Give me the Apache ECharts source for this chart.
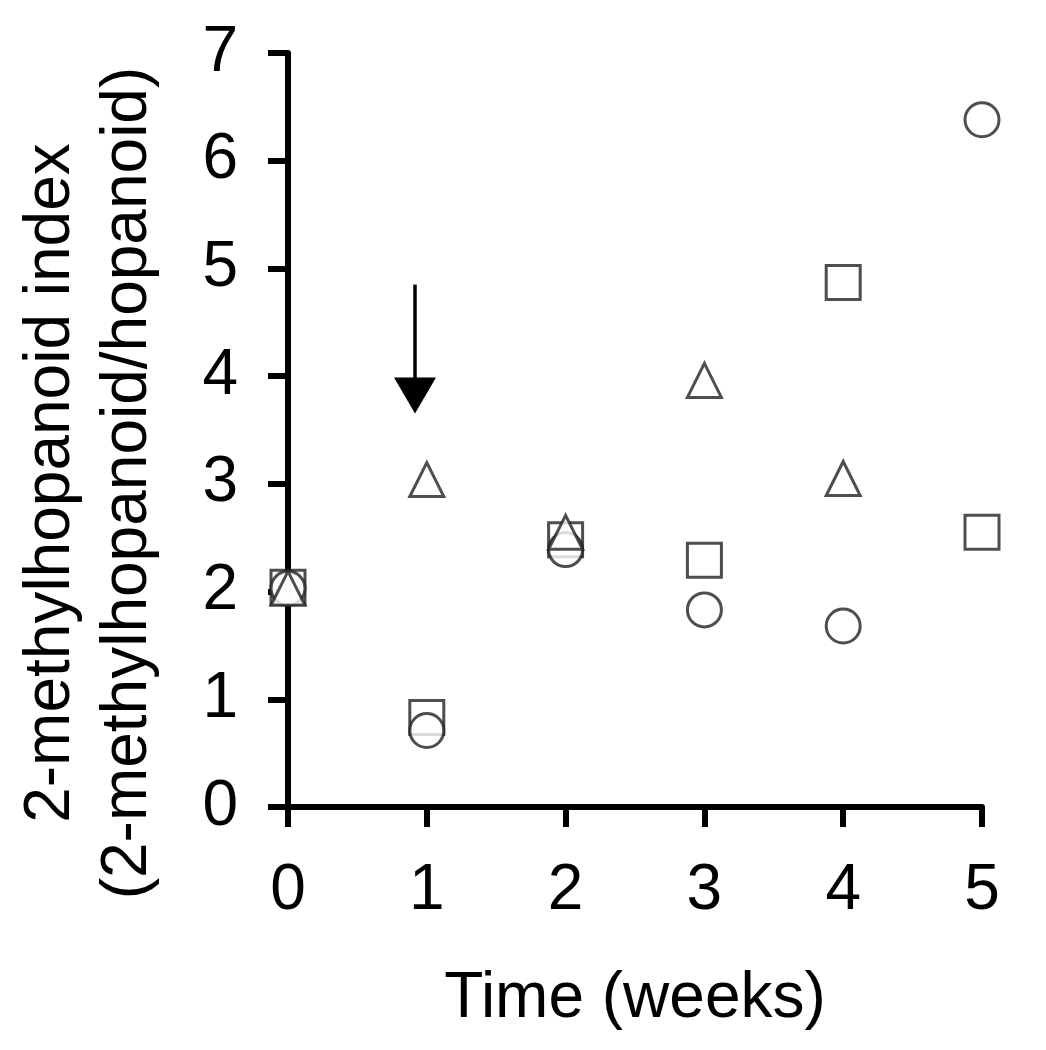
<!DOCTYPE html>
<html>
<head>
<meta charset="utf-8">
<script src="https://cdn.jsdelivr.net/npm/echarts@6/dist/echarts.min.js"></script>
<style>
html,body{margin:0;padding:0;background:#fff;}
#chart{width:1046px;height:1050px;}
</style>
</head>
<body>
<div id="chart"></div>
<script>
var weeks = [0, 1, 2, 3, 4, 5];
var squareVals = [2.04, 0.83, 2.48, 2.29, 4.87, 2.55];
var circleVals = [2.03, 0.71, 2.39, 1.83, 1.68, 6.38];
var triangleVals = [2.03, 3.04, 2.55, 3.96, 3.05, null];
var yTicks = [0, 1, 2, 3, 4, 5, 6, 7];
var arrowX = 0.915;
var arrowTop = 4.85;
var arrowHeadCenter = 3.82;
var xTitle = 'Time (weeks)';
var yTitle = ['2-methylhopanoid index', '(2-methylhopanoid/hopanoid)'];

function pairs(vals) {
  var out = [];
  for (var i = 0; i < weeks.length; i++) {
    if (vals[i] !== null) out.push([weeks[i], vals[i]]);
  }
  return out;
}

var FONT = '"Liberation Sans", Arial, sans-serif';
var chart = echarts.init(document.getElementById('chart'), null, {renderer: 'canvas'});

function markerSeries(name, symbol, vals, size) {
  return {
    name: name,
    type: 'scatter',
    symbol: symbol,
    symbolSize: size,
    data: pairs(vals),
    itemStyle: {color: '#ffffff', borderColor: '#222222', borderWidth: 3},
    emphasis: {disabled: true},
    z: 3
  };
}

var series = [
  markerSeries('square', 'rect', squareVals, 34),
  markerSeries('circle', 'circle', circleVals, 34),
  markerSeries('triangle', 'triangle', triangleVals, 34)
];
series[0].markLine = {
  silent: true,
  animation: false,
  symbol: ['none', 'triangle'],
  symbolSize: [42, 36],
  label: {show: false},
  lineStyle: {color: '#000', width: 3.5, type: 'solid'},
  data: [[{coord: [arrowX, arrowTop]}, {coord: [arrowX, arrowHeadCenter]}]]
};

chart.setOption({
  animation: false,
  backgroundColor: '#ffffff',
  grid: {left: 288, right: 64, top: 53, bottom: 243, containLabel: false, outerBoundsMode: 'none'},
  xAxis: {
    type: 'value',
    min: 0, max: 5, interval: 1,
    name: xTitle,
    nameLocation: 'middle',
    nameGap: 160,
    nameTextStyle: {fontFamily: FONT, fontSize: 64, color: '#000'},
    axisLine: {show: true, onZero: false, lineStyle: {color: '#000', width: 6}},
    axisTick: {show: true, inside: false, length: 20, lineStyle: {color: '#000', width: 6}},
    axisLabel: {fontFamily: FONT, fontSize: 64, color: '#000', margin: 52},
    splitLine: {show: false}
  },
  yAxis: {
    type: 'value',
    min: 0, max: 7, interval: 1,
    axisLine: {show: true, onZero: false, lineStyle: {color: '#000', width: 6}},
    axisTick: {show: true, inside: false, length: 20, lineStyle: {color: '#000', width: 6}},
    axisLabel: {fontFamily: FONT, fontSize: 64, color: '#000', margin: 50,
      formatter: function (v) { return yTicks.indexOf(v) >= 0 ? String(v) : ''; }},
    splitLine: {show: false}
  },
  graphic: [{
    type: 'text',
    x: 90,
    y: 483,
    rotation: Math.PI / 2,
    style: {
      text: yTitle.join('\n'),
      fontFamily: FONT,
      fontSize: 64,
      lineHeight: 77,
      fill: '#000',
      align: 'center',
      verticalAlign: 'middle'
    }
  }],
  series: series
});
</script>
</body>
</html>
